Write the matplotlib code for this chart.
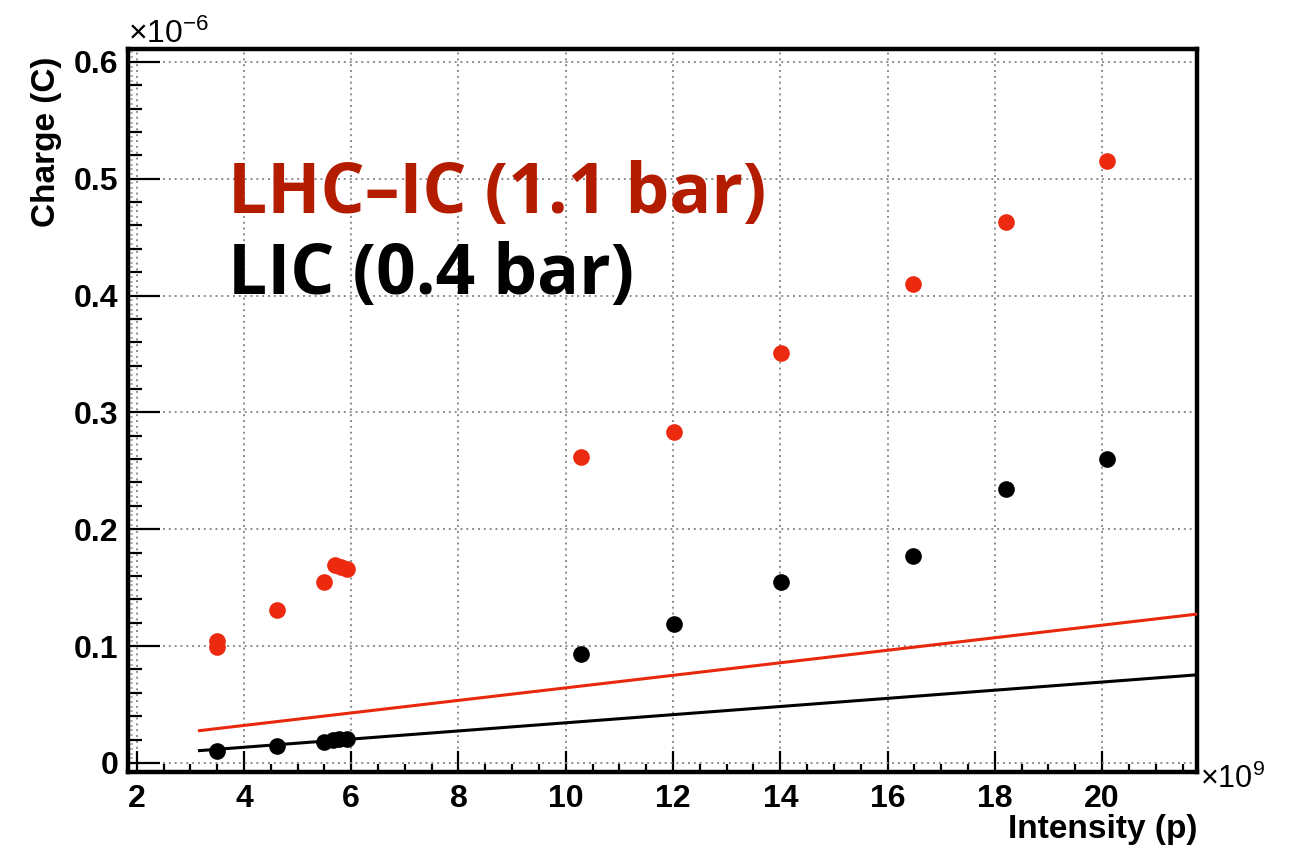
import matplotlib
matplotlib.use("Agg")
import matplotlib.pyplot as plt
import numpy as np
from matplotlib.ticker import MultipleLocator


# intensity in units of 1e9 protons, charge in units of 1e-6 C
LHCIC_INTENSITY = [3.49, 3.49, 4.61, 5.49, 5.70, 5.80, 5.92, 10.29, 12.01, 14.01, 16.48, 18.20, 20.10]
LHCIC_CHARGE = [0.104, 0.099, 0.131, 0.155, 0.169, 0.168, 0.166, 0.262, 0.283, 0.351, 0.410, 0.463, 0.515]

LIC_INTENSITY = [3.49, 4.61, 5.49, 5.66, 5.78, 5.92, 10.29, 12.01, 14.01, 16.48, 18.20, 20.10]
LIC_CHARGE = [0.0105, 0.0146, 0.0177, 0.0200, 0.0203, 0.0203, 0.0931, 0.119, 0.1545, 0.1768, 0.2348, 0.2605]

# reference lines (end points)
LINE_INTENSITY = [3.17, 21.78]
LHCIC_LINE = [0.0276, 0.1274]
LIC_LINE = [0.0105, 0.0754]

X_TICKS = [2, 4, 6, 8, 10, 12, 14, 16, 18, 20]
Y_TICKS = [0, 0.1, 0.2, 0.3, 0.4, 0.5, 0.6]
Y_TICK_LABELS = ["0", "0.1", "0.2", "0.3", "0.4", "0.5", "0.6"]

RED_POINTS = "#ec2a10"
RED_LINE = "#e8280c"
RED_TEXT = "#b41c00"

plt.rcParams["font.family"] = ["Liberation Sans", "DejaVu Sans"]
plt.rcParams["mathtext.fontset"] = "custom"
plt.rcParams["mathtext.rm"] = "Liberation Sans"
plt.rcParams["mathtext.it"] = "Liberation Sans"


def main():
    fig = plt.figure(figsize=(12.97, 8.49), dpi=100)
    ax = fig.add_axes([0.0987, 0.0911, 0.8242, 0.8512])

    ax.set_xlim(1.838, 21.77)
    ax.set_ylim(-0.0075, 0.611)

    ax.grid(True, which="major", color="#8c8c8c", linestyle=(0, (1, 2)), linewidth=1.4)
    ax.set_axisbelow(True)

    ax.plot(LINE_INTENSITY, LHCIC_LINE, color=RED_LINE, linewidth=2.2, zorder=3)
    ax.plot(LINE_INTENSITY, LIC_LINE, color="black", linewidth=2.2, zorder=3)

    ax.plot(LHCIC_INTENSITY, LHCIC_CHARGE, "o", color=RED_POINTS, markersize=12,
            markeredgewidth=0, zorder=4)
    ax.plot(LIC_INTENSITY, LIC_CHARGE, "o", color="black", markersize=12,
            markeredgewidth=0, zorder=4)

    ax.set_xticks(X_TICKS)
    ax.set_xticklabels([str(t) for t in X_TICKS])
    ax.set_yticks(Y_TICKS)
    ax.set_yticklabels(Y_TICK_LABELS)
    ax.xaxis.set_minor_locator(MultipleLocator(0.5))
    ax.yaxis.set_minor_locator(MultipleLocator(0.02))

    ax.tick_params(axis="both", which="both", direction="in", top=False, right=False)
    ax.tick_params(axis="x", which="major", length=15, width=1.6, pad=9, labelsize=23)
    ax.tick_params(axis="x", which="minor", length=6, width=1.6)
    ax.tick_params(axis="y", which="major", length=23, width=1.6, pad=7, labelsize=23)
    ax.tick_params(axis="y", which="minor", length=10, width=1.6)
    for lab in ax.get_xticklabels() + ax.get_yticklabels():
        lab.set_fontweight("bold")

    # faint third-level ticks on the y axis, ROOT style
    sec = ax.secondary_yaxis("left")
    sec.set_yticks(np.arange(0, 0.61, 0.004))
    sec.set_yticklabels([])
    sec.tick_params(direction="in", length=3.5, width=1.2, color="#aaaaaa")
    sec.spines["left"].set_visible(False)

    for spine in ax.spines.values():
        spine.set_linewidth(3.2)
        spine.set_color("black")

    ax.set_ylabel("Charge (C)", loc="top", fontsize=24, fontweight="bold")
    ax.yaxis.set_label_coords(-0.062, 0.99)
    ax.set_xlabel("Intensity (p)", loc="right", fontsize=24, fontweight="bold")
    ax.xaxis.set_label_coords(1.0, -0.058)

    ax.text(0.0, 1.008, r"$\mathregular{\times10^{-6}}$", transform=ax.transAxes,
            fontsize=23, ha="left", va="baseline")
    ax.text(1.003, -0.022, r"$\mathregular{\times10^{9}}$", transform=ax.transAxes,
            fontsize=22, ha="left", va="baseline")

    ax.text(3.70, 0.4704, "LHC\u2013IC (1.1 bar)", color=RED_TEXT, fontsize=50,
            fontweight="bold", family=["Open Sans", "DejaVu Sans"], va="baseline", ha="left")
    ax.text(3.70, 0.401, "LIC (0.4 bar)", color="black", fontsize=50,
            fontweight="bold", family=["Open Sans", "DejaVu Sans"], va="baseline", ha="left")

    fig.savefig("out.png", dpi=100, facecolor="white")
    plt.close(fig)


if __name__ == "__main__":
    main()
